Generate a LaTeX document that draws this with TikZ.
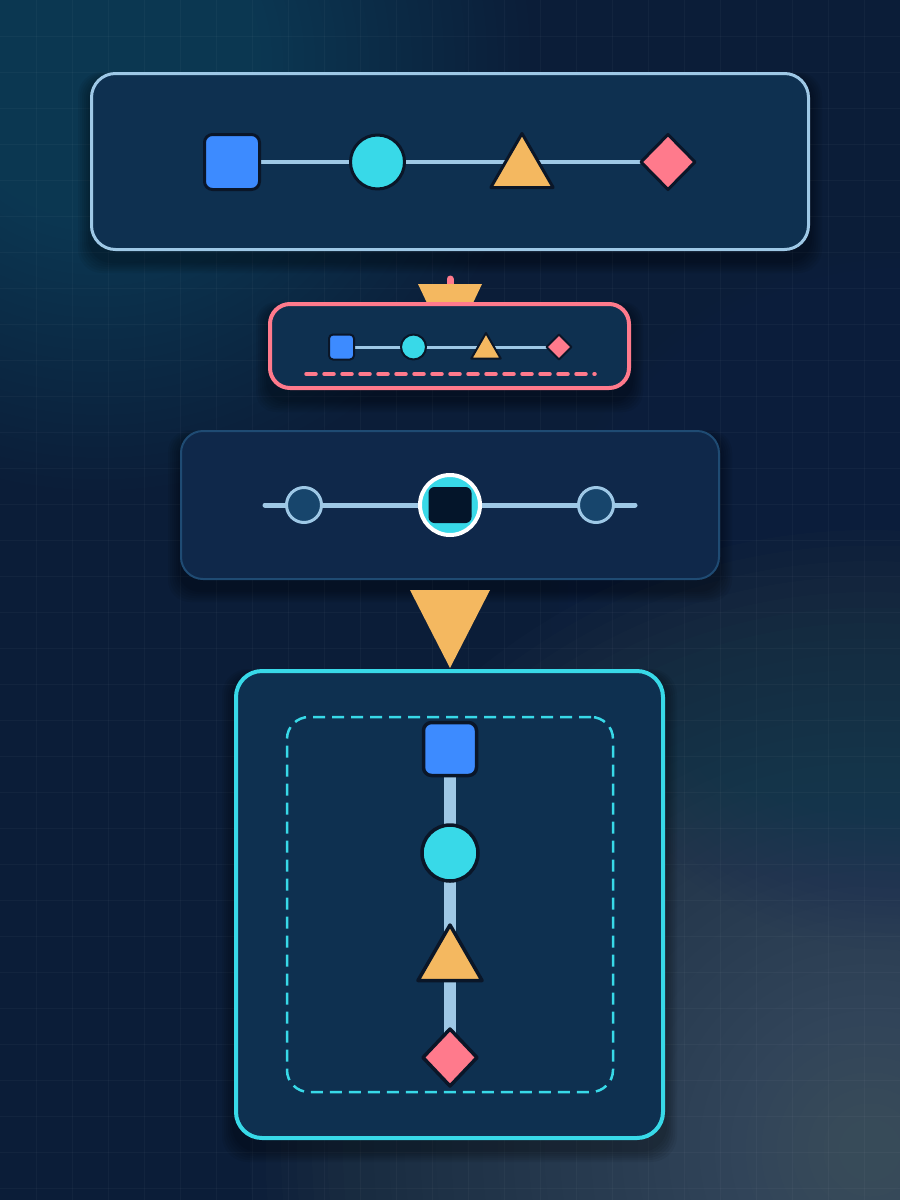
\documentclass[tikz,border=0pt]{standalone}
\usetikzlibrary{shapes.geometric,calc}
\definecolor{bgc}{HTML}{0B1D38}
\definecolor{glowa}{HTML}{1D5670}
\definecolor{glowb}{HTML}{566A78}
\definecolor{glowc}{HTML}{14345A}
\definecolor{panelc}{HTML}{0E3050}
\definecolor{panelthree}{HTML}{0F284A}
\definecolor{panelthreeline}{HTML}{1F4B73}
\definecolor{lineblue}{HTML}{9EC8E6}
\definecolor{bluec}{HTML}{3D8BFF}
\definecolor{cyanc}{HTML}{38D9E8}
\definecolor{orangec}{HTML}{F4B860}
\definecolor{pinkc}{HTML}{FF7A8C}
\definecolor{darkc}{HTML}{0A1628}
\definecolor{deepc}{HTML}{04152A}
\definecolor{dotc}{HTML}{17456C}
\pgfdeclarelayer{bgl}
\pgfdeclarelayer{conn}
\pgfsetlayers{bgl,conn,main}
\newcommand\dropshadow[5]{%
  \foreach \k in {1,...,6}{%
    \fill[black,opacity=0.06,rounded corners=#5] ($(#1,#2)+(-2*\k,6-\k)$) rectangle ($(#3,#4)+(2*\k,10+2*\k)$);}}
\newcommand\glowspot[4]{% centre x, centre y, max radius, colour
  \foreach \i in {1,...,40}{%
    \fill[#4,opacity=0.03] (#1,#2) circle ({#3/40*\i});}}
\begin{document}
\begin{tikzpicture}[x=1pt,y=-1pt,
  shp/.style={draw=darkc, line width=3pt, line join=round, inner sep=0pt, outer sep=0pt},
  sqshape/.style={shp, rectangle, rounded corners=8pt, fill=bluec},
  cishape/.style={shp, circle, fill=cyanc},
  trishape/.style={shp, regular polygon, regular polygon sides=3, fill=orangec},
  diashape/.style={shp, diamond, fill=pinkc},
  panel/.style={rectangle, inner sep=0pt, fill=panelc},
  connline/.style={draw=lineblue, line width=4pt},
  gridline/.style={draw=white, opacity=0.03, line width=0.8pt}]
\useasboundingbox (0,0) rectangle (900,1200);
\begin{pgfonlayer}{bgl}
  % background
  \fill[bgc] (0,0) rectangle (900,1200);
  \glowspot{100}{60}{430}{glowa}
  \glowspot{870}{1150}{620}{glowb}
  \glowspot{900}{600}{350}{glowc}
  \foreach \x in {36,72,...,900} \draw[gridline] (\x,0) -- (\x,1200);
  \foreach \y in {36,72,...,1200} \draw[gridline] (0,\y) -- (900,\y);
  % shadows
  \dropshadow{90}{72}{810}{251}{24pt}
  \dropshadow{268}{302}{631}{390}{20pt}
  \dropshadow{180}{430}{720}{580}{22pt}
  \dropshadow{234}{669}{665}{1140}{26pt}
  % panels
  \node[panel, draw=lineblue, line width=3pt, rounded corners=24pt, minimum width=717pt, minimum height=176pt] (p1) at (450,161.5) {};
  \coordinate (st1) at (450,279);
  \coordinate (st2) at (450,290);
  \draw[pinkc, line width=7pt, line cap=round] (st1) -- (st2);
  \fill[orangec] (418,284) -- (482,284) -- (473,303) -- (427,303) -- cycle;
  \node[panel, draw=pinkc, line width=4pt, rounded corners=20pt, minimum width=359pt, minimum height=84pt] (p2) at (449.5,346) {};
  \node[panel, fill=panelthree, draw=panelthreeline, line width=2pt, rounded corners=22pt, minimum width=538pt, minimum height=148pt] (p3) at (450,505) {};
  \fill[orangec] (410,590) -- (490,590) -- (450,668) -- cycle;
  \node[panel, draw=cyanc, line width=4pt, rounded corners=26pt, minimum width=427pt, minimum height=467pt] (p4) at (449.5,904.5) {};
  \node[rectangle, inner sep=0pt, draw=cyanc, line width=2.5pt, dash pattern=on 12pt off 7pt, rounded corners=22pt, minimum width=326pt, minimum height=375pt] (p4in) at (450,904.5) {};
\end{pgfonlayer}

% ---------- panel 1 ----------
\node[sqshape, minimum size=55pt] (a1) at (232,162) {};
\node[cishape, minimum size=54pt] (b1) at (377.5,162) {};
\node[trishape, minimum size=72pt] (c1) at (522,169.5) {};
\node[diashape, minimum width=54pt, minimum height=55pt] (d1) at (668,162) {};
\begin{pgfonlayer}{conn}
  \draw[connline] (a1.center) -- (b1.center) -- (b1.center -| c1.center) -- (d1.center);
\end{pgfonlayer}

% ---------- panel 2 ----------
\node[sqshape, line width=2pt, rounded corners=4pt, minimum size=25pt] (a2) at (341.5,347) {};
\node[cishape, line width=2pt, minimum size=25pt] (b2) at (413.5,347) {};
\node[trishape, line width=2pt, minimum size=34pt] (c2) at (486,350) {};
\node[diashape, line width=2pt, minimum size=25pt] (d2) at (559,347) {};
\begin{pgfonlayer}{conn}
  \draw[connline, line width=3pt] (a2.center) -- (b2.center) -- (b2.center -| c2.center) -- (d2.center);
\end{pgfonlayer}
\coordinate (ds1) at (306,374);
\coordinate (ds2) at (595,374);
\draw[pinkc, line width=3.5pt, line cap=round, dash pattern=on 10pt off 8pt] (ds1) -- (ds2);

% ---------- panel 3 ----------
\coordinate (l3a) at (265,505);
\coordinate (l3b) at (635,505);
\node[circle, draw=lineblue, fill=dotc, line width=3pt, inner sep=0pt, minimum size=35pt] (c3a) at (304,505) {};
\node[circle, draw=white, fill=cyanc, line width=4pt, inner sep=0pt, minimum size=60pt] (c3m) at (450,505) {};
\node[rectangle, rounded corners=6pt, fill=deepc, inner sep=0pt, minimum width=43pt, minimum height=36pt] (s3m) at (450,505) {};
\node[circle, draw=lineblue, fill=dotc, line width=3pt, inner sep=0pt, minimum size=35pt] (c3b) at (596,505) {};
\begin{pgfonlayer}{conn}
  \draw[connline, line width=5pt, line cap=round] (l3a) -- (c3a.center) -- (c3m.center) -- (c3b.center) -- (l3b);
\end{pgfonlayer}

% ---------- panel 4 ----------
\node[sqshape, line width=3.5pt, minimum size=53pt] (a4) at (450,749) {};
\node[cishape, line width=3.5pt, minimum size=56pt] (b4) at (450,853) {};
\node[trishape, line width=3.5pt, minimum size=74pt] (c4) at (450,962) {};
\node[diashape, line width=3.5pt, minimum width=54pt, minimum height=57pt] (d4) at (450,1057.5) {};
\begin{pgfonlayer}{conn}
  \draw[connline, line width=12pt] (a4.center) -- (b4.center) -- (c4.center) -- (d4.center);
\end{pgfonlayer}
\end{tikzpicture}
\end{document}
